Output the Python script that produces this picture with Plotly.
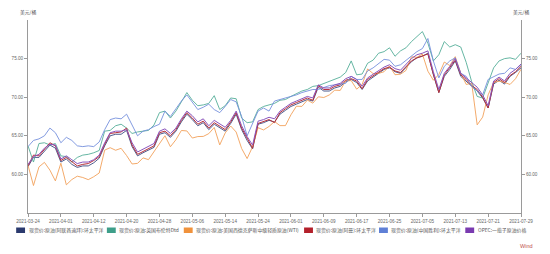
import pandas as pd
import plotly.graph_objects as go

# ---------------- data ----------------
dates = [d.strftime("%Y-%m-%d") for d in pd.bdate_range("2021-03-24", "2021-07-29")
         if d.strftime("%Y-%m-%d") not in ("2021-04-02",)]

dubai = [61.0, 62.2, 62.2, 63.0, 63.8, 63.4, 61.6, 62.0, 61.3, 60.9, 61.1, 61.1, 61.5, 62.1, 63.7,
         65.0, 65.2, 65.2, 65.7, 63.6, 62.4, 62.8, 63.1, 63.5, 65.2, 65.4, 64.8, 65.6, 66.8, 67.8,
         67.1, 66.3, 66.7, 65.8, 66.5, 66.1, 65.6, 66.6, 67.8, 65.8, 64.4, 63.3, 66.5, 66.7, 67.0,
         66.8, 67.8, 68.3, 68.8, 69.1, 69.4, 69.7, 69.5, 71.3, 70.8, 70.8, 71.2, 71.4, 72.0, 72.3,
         71.9, 71.0, 72.1, 72.6, 73.0, 73.6, 73.8, 73.3, 73.1, 73.8, 74.6, 75.1, 75.3, 75.7, 72.9,
         70.6, 72.7, 73.6, 74.7, 72.7, 72.1, 71.4, 70.8, 69.9, 68.6, 71.7, 72.2, 71.7, 72.7, 73.2, 73.8]

brent = [63.7, 61.6, 64.0, 64.1, 63.8, 64.0, 62.4, 62.3, 61.6, 62.2, 62.5, 62.6, 62.8, 63.1, 65.6,
         65.7, 66.3, 66.5, 66.0, 65.3, 65.5, 65.6, 65.7, 66.4, 68.0, 68.2, 67.3, 68.2, 69.5, 70.6,
         69.6, 68.9, 69.0, 69.2, 70.2, 68.4, 68.9, 69.9, 69.8, 67.3, 66.7, 66.8, 68.4, 68.8, 69.0,
         69.2, 69.6, 69.7, 70.1, 70.5, 70.8, 71.0, 71.4, 71.5, 71.8, 72.0, 72.3, 72.6, 73.2, 74.7,
         72.9, 73.0, 74.4, 74.8, 75.7, 75.9, 76.4, 75.3, 76.0, 76.4, 77.2, 77.8, 78.5, 77.0, 74.7,
         75.5, 77.2, 76.5, 76.8, 76.5, 74.5, 72.0, 70.1, 69.9, 71.9, 73.8, 74.7, 75.0, 75.1, 74.9, 75.7]

wti = [61.18, 58.56, 60.97, 61.56, 60.55, 59.16, 61.45, 58.65, 59.33, 59.77, 59.60, 59.32, 59.70,
       60.18, 63.15, 63.46, 63.13, 63.38, 62.44, 61.35, 61.43, 62.14, 61.91, 62.94, 63.86, 65.01,
       63.58, 64.49, 65.69, 65.63, 64.71, 64.90, 64.92, 65.28, 66.08, 63.82, 65.37, 66.27, 65.49,
       63.36, 62.05, 63.58, 66.05, 65.76, 66.21, 66.85, 66.32, 66.32, 67.72, 68.83, 68.81, 69.62,
       69.23, 70.05, 69.96, 70.29, 70.91, 70.88, 72.12, 72.15, 71.04, 71.64, 73.66, 73.06, 73.08,
       73.30, 74.05, 72.91, 72.98, 73.47, 75.23, 75.16, 75.60, 73.37, 72.20, 72.94, 74.56, 74.10,
       75.25, 73.13, 71.65, 71.81, 66.42, 67.42, 70.30, 71.91, 72.07, 71.91, 71.65, 72.39, 73.62]

oman = [61.1, 62.5, 62.4, 63.2, 64.1, 63.7, 61.8, 62.2, 61.6, 61.1, 61.3, 61.4, 61.8, 62.3, 63.9,
        65.3, 65.4, 65.5, 66.0, 63.8, 62.6, 63.0, 63.3, 63.7, 65.4, 65.6, 65.0, 65.8, 67.0, 68.0,
        67.3, 66.5, 66.9, 66.0, 66.7, 66.3, 65.8, 66.8, 68.0, 66.0, 64.6, 63.4, 66.6, 66.9, 67.1,
        66.7, 68.0, 68.5, 69.0, 69.3, 69.6, 69.9, 69.6, 71.5, 71.0, 71.0, 71.4, 71.6, 72.2, 72.4,
        72.1, 71.1, 72.3, 72.8, 73.2, 73.7, 73.9, 73.4, 73.2, 73.9, 74.7, 75.1, 75.4, 75.6, 73.0,
        70.6, 72.9, 73.8, 74.8, 72.9, 72.3, 71.5, 71.0, 70.0, 68.6, 71.9, 72.4, 71.9, 72.8, 73.3, 74.0]

shengli = [63.6, 64.4, 64.6, 65.0, 66.0, 65.4, 64.1, 64.8, 64.4, 63.7, 63.6, 63.7, 63.6, 64.2, 65.8,
           67.1, 67.3, 67.2, 67.8, 66.5, 65.0, 65.6, 65.8, 66.2, 66.5, 68.2, 67.5, 68.5, 69.5, 70.3,
           69.3, 68.4, 68.7, 69.1, 68.4, 68.0, 68.8, 69.7, 69.4, 67.5, 65.0, 66.5, 68.2, 68.6, 68.2,
           69.5, 69.7, 69.9, 70.1, 70.3, 70.6, 70.8, 71.0, 71.0, 71.3, 71.5, 71.6, 71.7, 71.8, 72.7,
           72.3, 72.3, 73.4, 73.8, 74.4, 74.9, 74.8, 74.0, 74.2, 74.8, 75.3, 75.9, 76.3, 77.6, 74.7,
           72.5, 74.0, 74.7, 75.1, 73.1, 72.7, 71.4, 70.8, 70.3, 72.3, 72.7, 73.0, 73.1, 73.8, 73.6, 74.2]

opec = [61.3, 62.3, 62.6, 63.4, 63.9, 63.8, 62.0, 62.4, 61.9, 61.4, 61.6, 61.6, 61.9, 62.5, 64.1,
        65.4, 65.6, 65.6, 65.8, 64.1, 62.9, 63.3, 63.6, 64.0, 65.6, 65.9, 65.3, 66.0, 67.2, 68.2,
        67.6, 66.8, 67.2, 66.3, 67.0, 66.6, 66.1, 67.0, 68.2, 66.3, 64.9, 63.8, 66.9, 67.1, 67.4,
        67.2, 68.2, 68.7, 69.2, 69.5, 69.8, 70.1, 69.9, 71.6, 71.2, 71.2, 71.6, 71.8, 72.4, 72.7,
        72.3, 71.4, 72.5, 73.0, 73.4, 73.9, 74.2, 73.7, 73.5, 74.2, 75.0, 75.5, 75.7, 76.0, 73.3,
        71.0, 73.1, 74.0, 75.0, 73.1, 72.5, 71.8, 71.3, 70.3, 68.9, 72.1, 72.6, 72.1, 73.1, 73.6, 74.3]

names = ["现货价:原油(阿联酋迪拜):环太平洋", "现货价:原油:英国布伦特Dtd",
         "现货价:原油:美国西德克萨斯中级轻质原油(WTI)", "现货价:原油(阿曼):环太平洋",
         "现货价:原油(中国胜利):环太平洋", "OPEC:一揽子原油价格"]
series = [dubai, brent, wti, oman, shengli, opec]
colors = ["#2B3A6E", "#3E9F8A", "#F0923C", "#B3202B", "#5F80D6", "#7A3BB0"]
line_colors = ["#3A4A80", "#55AE99", "#F2A05A", "#B8303A", "#7590DC", "#8A55BC"]
widths = [0.9, 0.9, 0.9, 1.0, 0.9, 1.0]

y_ticks = [60, 65, 70, 75]
tick_dates = dates[::6]
unit = "美元/桶"

# ---------------- figure ----------------
W, H = 550, 254
L, R, T, B = 25, 25, 20, 41
PW, PH = W - L - R, H - T - B
FONT = "Liberation Sans, Noto Sans CJK SC, sans-serif"
CJK = "Noto Sans CJK SC, sans-serif"

fig = go.Figure()
for n, s, c, w in zip(names, series, line_colors, widths):
    fig.add_trace(go.Scatter(x=dates, y=s, name=n, mode="lines",
                             line=dict(color=c, width=w), showlegend=False))
fig.add_trace(go.Scatter(x=dates, y=brent, yaxis="y2", mode="lines", opacity=0,
                         line=dict(width=0), showlegend=False, hoverinfo="skip"))

axis_common = dict(range=[55, 80], tickvals=y_ticks, tickformat=".2f", showgrid=False,
                   zeroline=False, showline=True, linecolor="#9a9a9a", linewidth=1,
                   ticks="outside", ticklen=3, tickcolor="#9a9a9a",
                   tickfont=dict(size=4.6, color="#666", family=FONT))
fig.update_layout(
    width=W, height=H, margin=dict(l=L, r=R, t=T, b=B),
    paper_bgcolor="white", plot_bgcolor="white",
    xaxis=dict(type="category", range=[0, len(dates) - 1], tickvals=tick_dates,
               ticktext=tick_dates, showgrid=False, showline=True, linecolor="#9a9a9a",
               ticks="outside", ticklen=3, tickcolor="#9a9a9a",
               tickfont=dict(size=4.6, color="#666", family=FONT)),
    yaxis=dict(**axis_common),
    yaxis2=dict(**axis_common, overlaying="y", side="right"),
)

def px(xp):
    return (xp - L) / PW

def py(yp):
    return (H - B - yp) / PH

# unit labels
for xp in (24.5, 524.5):
    fig.add_annotation(x=px(xp), y=py(11.5), xref="paper", yref="paper", text=unit,
                       showarrow=False, xanchor="center", yanchor="middle",
                       font=dict(size=4.8, color="#555", family=CJK))

# legend (swatches + text)
leg_x = [13, 105, 183, 305, 381, 468.5]
for xs, n, c in zip(leg_x, names, colors):
    fig.add_shape(type="rect", xref="paper", yref="paper",
                  x0=px(xs), x1=px(xs + 9), y0=py(233), y1=py(227.5),
                  fillcolor=c, line=dict(width=0))
    fig.add_annotation(x=px(xs + 10.5), y=py(230.3), xref="paper", yref="paper", text=n,
                       showarrow=False, xanchor="left", yanchor="middle",
                       font=dict(size=4.9, color="#555", family=CJK))

fig.add_annotation(x=px(539), y=py(245.5), xref="paper", yref="paper", text="Wind",
                   showarrow=False, xanchor="right", yanchor="middle",
                   font=dict(size=5.5, color="#C0504D", family=FONT))

fig.write_html("out.html")
